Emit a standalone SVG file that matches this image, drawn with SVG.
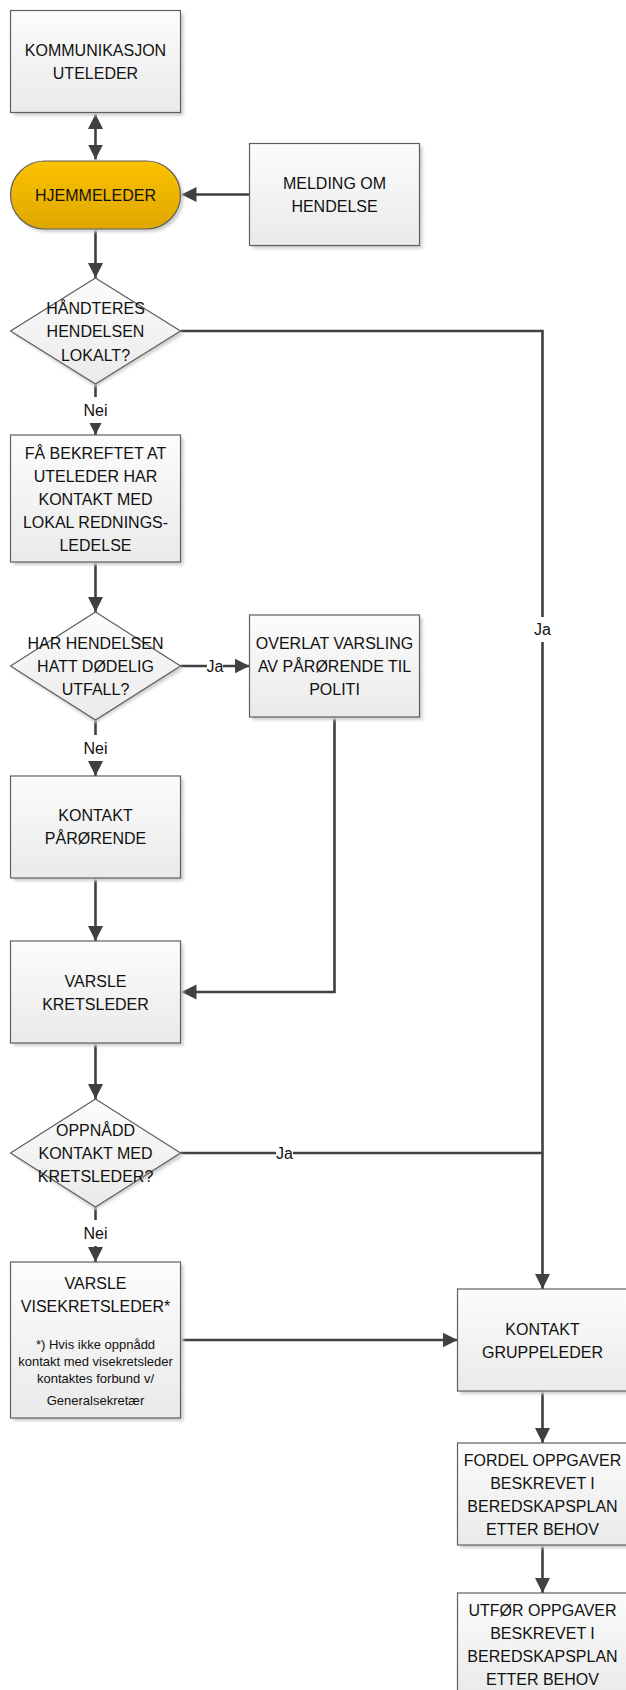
<svg xmlns="http://www.w3.org/2000/svg" width="626" height="1690" viewBox="0 0 626 1690">
<style>
.box{fill:url(#gBox);stroke:#5f5f5f;stroke-width:1.2}
.sh{fill:#cfcfcf;filter:url(#blur)}
.hj{fill:url(#gGold);stroke:#5f5f5f;stroke-width:1.2}
.t{font-family:"Liberation Sans",Arial,sans-serif;font-size:16px;fill:#111;text-anchor:middle}
.s{font-family:"Liberation Sans",Arial,sans-serif;font-size:13px;fill:#111;text-anchor:middle}
.c{fill:none;stroke:#404040;stroke-width:2.6}
.lbl{fill:#fff}
</style>
<defs>
<linearGradient id="gBox" x1="0" y1="0" x2="0" y2="1"><stop offset="0" stop-color="#fcfcfc"/><stop offset="1" stop-color="#eaeaea"/></linearGradient>
<linearGradient id="gGold" x1="0" y1="0" x2="0" y2="1"><stop offset="0" stop-color="#fbc200"/><stop offset="1" stop-color="#dfa700"/></linearGradient>
<filter id="blur" x="-10%" y="-10%" width="120%" height="120%"><feGaussianBlur stdDeviation="1.5"/></filter>
<marker id="ah" markerUnits="userSpaceOnUse" markerWidth="16" markerHeight="16" viewBox="0 0 16 16" refX="15" refY="8" orient="auto-start-reverse"><path d="M0,0.5 L15,8 L0,15.5 z" fill="#404040"/></marker>
</defs>

<g id="connectors">
<path class="c" d="M95.5,114 V159.5" marker-start="url(#ah)" marker-end="url(#ah)"/>
<path class="c" d="M249.5,194.5 H181.5" marker-end="url(#ah)"/>
<path class="c" d="M95.5,229 V278" marker-end="url(#ah)"/>
<path class="c" d="M180.5,331 H542.5 V1289" marker-end="url(#ah)"/>
<path class="c" d="M95.5,384 V435" marker-end="url(#ah)"/>
<path class="c" d="M95.5,562 V612" marker-end="url(#ah)"/>
<path class="c" d="M180.5,666 H249.5" marker-end="url(#ah)"/>
<path class="c" d="M95.5,720 V776" marker-end="url(#ah)"/>
<path class="c" d="M95.5,878 V941" marker-end="url(#ah)"/>
<path class="c" d="M334.5,717 V992 H181.5" marker-end="url(#ah)"/>
<path class="c" d="M95.5,1043 V1099" marker-end="url(#ah)"/>
<path class="c" d="M180.5,1153 H542.5"/>
<path class="c" d="M95.5,1207 V1262" marker-end="url(#ah)"/>
<path class="c" d="M181.5,1340 H457.5" marker-end="url(#ah)"/>
<path class="c" d="M542.5,1391 V1443" marker-end="url(#ah)"/>
<path class="c" d="M542.5,1545 V1593" marker-end="url(#ah)"/>
<g id="labels">
<rect class="lbl" x="530" y="617" width="25" height="25"/><text class="t" x="542.5" y="634.5">Ja</text>
<rect class="lbl" x="83" y="397" width="25" height="26"/><text class="t" x="95.5" y="415.5">Nei</text>
<rect class="lbl" x="207" y="656" width="16" height="20"/><text class="t" x="215" y="671.5">Ja</text>
<rect class="lbl" x="83" y="735" width="25" height="26"/><text class="t" x="95.5" y="753.5">Nei</text>
<rect class="lbl" x="276" y="1143" width="17" height="20"/><text class="t" x="284.5" y="1158.5">Ja</text>
<rect class="lbl" x="83" y="1220" width="25" height="26"/><text class="t" x="95.5" y="1238.5">Nei</text>
</g>
</g>

<g id="kommunikasjon">
<rect class="sh" x="13.5" y="13.5" width="170" height="102"/>
<rect class="box" x="10.5" y="10.5" width="170" height="102"/>
<text class="t" x="95.5" y="55.5">KOMMUNIKASJON</text>
<text class="t" x="95.5" y="78.5">UTELEDER</text>
</g>
<g id="hjemmeleder">
<rect class="sh" x="13.5" y="164" width="170" height="68" rx="34"/>
<rect class="hj" x="10.5" y="161" width="170" height="68" rx="34"/>
<text class="t" x="95.5" y="200.5">HJEMMELEDER</text>
</g>
<g id="melding">
<rect class="sh" x="252.5" y="146.5" width="170" height="102"/>
<rect class="box" x="249.5" y="143.5" width="170" height="102"/>
<text class="t" x="334.5" y="189">MELDING OM</text>
<text class="t" x="334.5" y="211.5">HENDELSE</text>
</g>
<g id="d1">
<path class="sh" d="M95.5,281 L183.5,334 L95.5,387 L13.5,334 z"/>
<path class="box" d="M95.5,278 L180.5,331 L95.5,384 L10.5,331 z"/>
<text class="t" x="95.5" y="314">HÅNDTERES</text>
<text class="t" x="95.5" y="336.5">HENDELSEN</text>
<text class="t" x="95.5" y="361">LOKALT?</text>
</g>
<g id="bekreftet">
<rect class="sh" x="13.5" y="438" width="170" height="127"/>
<rect class="box" x="10.5" y="435" width="170" height="127"/>
<text class="t" x="95.5" y="458.5">FÅ BEKREFTET AT</text>
<text class="t" x="95.5" y="481.5">UTELEDER HAR</text>
<text class="t" x="95.5" y="504.5">KONTAKT MED</text>
<text class="t" x="95.5" y="527.5">LOKAL REDNINGS-</text>
<text class="t" x="95.5" y="550.5">LEDELSE</text>
</g>
<g id="d2">
<path class="sh" d="M95.5,615 L183.5,669 L95.5,723 L13.5,669 z"/>
<path class="box" d="M95.5,612 L180.5,666 L95.5,720 L10.5,666 z"/>
<text class="t" x="95.5" y="649">HAR HENDELSEN</text>
<text class="t" x="95.5" y="672">HATT DØDELIG</text>
<text class="t" x="95.5" y="695">UTFALL?</text>
</g>
<g id="overlat">
<rect class="sh" x="252.5" y="618" width="170" height="102"/>
<rect class="box" x="249.5" y="615" width="170" height="102"/>
<text class="t" x="334.5" y="649">OVERLAT VARSLING</text>
<text class="t" x="334.5" y="672">AV PÅRØRENDE TIL</text>
<text class="t" x="334.5" y="695">POLITI</text>
</g>
<g id="kontakt-parorende">
<rect class="sh" x="13.5" y="779" width="170" height="102"/>
<rect class="box" x="10.5" y="776" width="170" height="102"/>
<text class="t" x="95.5" y="821">KONTAKT</text>
<text class="t" x="95.5" y="843.5">PÅRØRENDE</text>
</g>
<g id="varsle-kretsleder">
<rect class="sh" x="13.5" y="944" width="170" height="102"/>
<rect class="box" x="10.5" y="941" width="170" height="102"/>
<text class="t" x="95.5" y="987">VARSLE</text>
<text class="t" x="95.5" y="1009.5">KRETSLEDER</text>
</g>
<g id="d3">
<path class="sh" d="M95.5,1102 L183.5,1156 L95.5,1210 L13.5,1156 z"/>
<path class="box" d="M95.5,1099 L180.5,1153 L95.5,1207 L10.5,1153 z"/>
<text class="t" x="95.5" y="1136">OPPNÅDD</text>
<text class="t" x="95.5" y="1158.5">KONTAKT MED</text>
<text class="t" x="95.5" y="1182">KRETSLEDER?</text>
</g>
<g id="visekretsleder">
<rect class="sh" x="13.5" y="1265" width="170" height="156"/>
<rect class="box" x="10.5" y="1262" width="170" height="156"/>
<text class="t" x="95.5" y="1289">VARSLE</text>
<text class="t" x="95.5" y="1311.5">VISEKRETSLEDER*</text>
<text class="s" x="95.5" y="1348.5">*) Hvis ikke oppnådd</text>
<text class="s" x="95.5" y="1365.5">kontakt med visekretsleder</text>
<text class="s" x="95.5" y="1383">kontaktes forbund v/</text>
<text class="s" x="95.5" y="1404.5">Generalsekretær</text>
</g>
<g id="gruppeleder">
<rect class="sh" x="460.5" y="1292" width="170" height="102"/>
<rect class="box" x="457.5" y="1289" width="170" height="102"/>
<text class="t" x="542.5" y="1335">KONTAKT</text>
<text class="t" x="542.5" y="1358">GRUPPELEDER</text>
</g>
<g id="fordel">
<rect class="sh" x="460.5" y="1446" width="170" height="102"/>
<rect class="box" x="457.5" y="1443" width="170" height="102"/>
<text class="t" x="542.5" y="1465.5">FORDEL OPPGAVER</text>
<text class="t" x="542.5" y="1488.5">BESKREVET I</text>
<text class="t" x="542.5" y="1511.5">BEREDSKAPSPLAN</text>
<text class="t" x="542.5" y="1534.5">ETTER BEHOV</text>
</g>
<g id="utfor">
<rect class="sh" x="460.5" y="1596" width="170" height="102"/>
<rect class="box" x="457.5" y="1593" width="170" height="102"/>
<text class="t" x="542.5" y="1615.5">UTFØR OPPGAVER</text>
<text class="t" x="542.5" y="1638.5">BESKREVET I</text>
<text class="t" x="542.5" y="1661.5">BEREDSKAPSPLAN</text>
<text class="t" x="542.5" y="1684.5">ETTER BEHOV</text>
</g>
</svg>
